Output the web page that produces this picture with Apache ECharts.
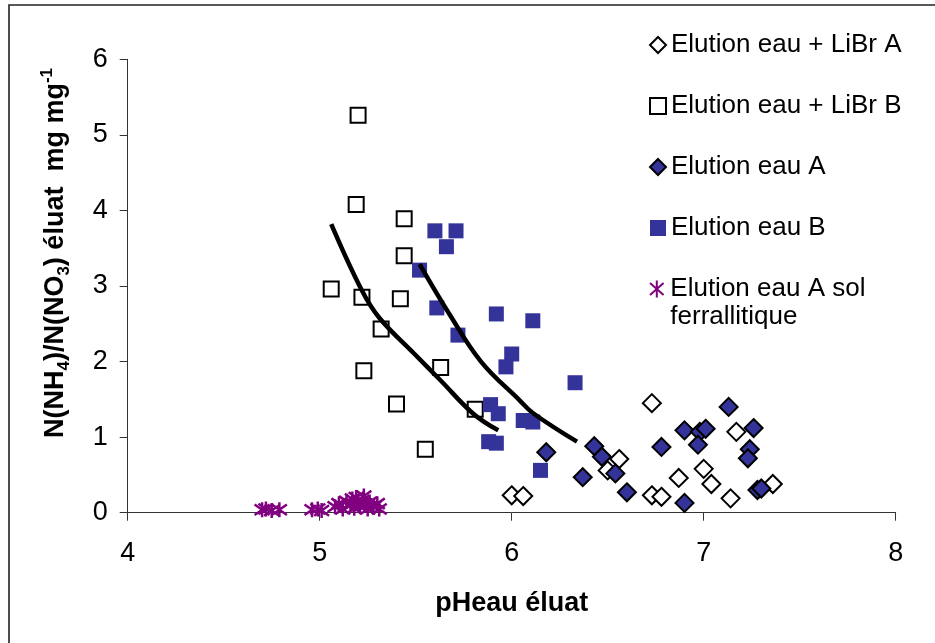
<!DOCTYPE html>
<html>
<head>
<meta charset="utf-8">
<script src="https://cdn.jsdelivr.net/npm/echarts@6/dist/echarts.min.js"></script>
<style>
  html, body { margin: 0; padding: 0; background: #fff; }
  #chart { width: 935px; height: 643px; }
</style>
</head>
<body>
<div id="chart"></div>
<script>
// pH of eluate vs N(NH4)/N(NO3) ratio, per elution method
const seriesNames = [
  'Elution eau + LiBr A',
  'Elution eau + LiBr B',
  'Elution eau A',
  'Elution eau B',
  'Elution eau A sol ferrallitique'
];

const libraA = [
  [6.73, 1.45], [6.56, 0.71], [6.50, 0.56], [6.00, 0.23], [6.06, 0.22],
  [6.73, 0.23], [6.78, 0.21], [6.87, 0.46], [7.00, 0.58], [7.04, 0.38],
  [7.17, 1.07], [7.14, 0.19], [7.36, 0.38]
];

const libraB = [
  [5.20, 5.26], [5.19, 4.08], [5.44, 3.89], [5.06, 2.96], [5.22, 2.85],
  [5.44, 3.40], [5.42, 2.83], [5.32, 2.43], [5.23, 1.88], [5.63, 1.92],
  [5.40, 1.44], [5.81, 1.37], [5.55, 0.84]
];

const eauA = [
  [6.18, 0.80], [6.43, 0.88], [6.47, 0.74], [6.54, 0.52], [6.37, 0.47],
  [6.60, 0.27], [6.78, 0.87], [6.90, 1.09], [6.98, 1.07], [7.01, 1.11],
  [6.97, 0.90], [7.13, 1.40], [7.26, 1.12], [7.24, 0.84], [7.23, 0.72],
  [7.28, 0.30], [7.30, 0.32], [6.90, 0.13]
];

const eauB = [
  [5.60, 3.73], [5.71, 3.73], [5.66, 3.52], [5.52, 3.21], [5.61, 2.71],
  [5.72, 2.35], [5.92, 2.63], [6.11, 2.54], [6.00, 2.10], [5.97, 1.93],
  [6.33, 1.72], [5.89, 1.43], [5.93, 1.31], [6.06, 1.22], [6.11, 1.20],
  [5.92, 0.92], [5.88, 0.94], [6.15, 0.56]
];

const solFerral = [
  [4.70, 0.04], [4.72, 0.05], [4.75, 0.03], [4.79, 0.04], [4.96, 0.04],
  [4.99, 0.05], [5.01, 0.03], [5.08, 0.08], [5.10, 0.12], [5.12, 0.05],
  [5.14, 0.15], [5.16, 0.10], [5.17, 0.18], [5.18, 0.06], [5.19, 0.20],
  [5.20, 0.12], [5.21, 0.08], [5.22, 0.16], [5.23, 0.22], [5.24, 0.10],
  [5.25, 0.05], [5.26, 0.14], [5.28, 0.08], [5.30, 0.12], [5.31, 0.05]
];

// trend curves drawn through the LiBr B and eau B clouds
const trendLibrB = [
  [5.06, 3.82], [5.22, 2.94], [5.31, 2.58], [5.49, 2.11],
  [5.63, 1.75], [5.80, 1.31], [5.93, 1.09]
];
const trendEauB = [
  [5.52, 3.29], [5.68, 2.61], [5.84, 2.00], [6.04, 1.49],
  [6.11, 1.32], [6.34, 0.94]
];

const xTicks = [4, 5, 6, 7, 8];
const yTicks = [0, 1, 2, 3, 4, 5, 6];

const FONT = '"Liberation Sans", Arial, sans-serif';
const BLUE = '#333399';
const PURPLE = '#800080';
const STAR = 'path://M10,0L10,20M2,3L18,17M2,17L18,3';

const chart = echarts.init(document.getElementById('chart'), null, { renderer: 'canvas' });

const legendText = { fontFamily: FONT, fontSize: 26, color: '#000', lineHeight: 28 };

chart.setOption({
  animation: false,
  backgroundColor: '#fff',
  grid: { left: 127.7, right: 39.3, top: 59.3, bottom: 130.3, containLabel: false },
  graphic: [{
    type: 'rect',
    silent: true,
    shape: { x: 9, y: 5, width: 940, height: 650 },
    style: { fill: 'none', stroke: '#222', lineWidth: 1.6 }
  }],
  legend: [{
    orient: 'vertical',
    left: 649,
    top: 31,
    padding: 0,
    itemGap: 33,
    itemWidth: 16,
    itemHeight: 16,
    selectedMode: false,
    textStyle: legendText,
    data: seriesNames.slice(0, 4)
  }, {
    // blank first line keeps the symbol level with "Elution eau A sol"
    orient: 'vertical',
    left: 649,
    top: 247,
    padding: 0,
    itemWidth: 17,
    itemHeight: 17,
    selectedMode: false,
    formatter: () => ' \nElution eau A sol\nferrallitique',
    textStyle: legendText,
    data: [seriesNames[4]]
  }],
  xAxis: {
    type: 'value',
    min: xTicks[0],
    max: xTicks[xTicks.length - 1],
    interval: 1,
    name: 'pHeau éluat',
    nameLocation: 'middle',
    nameGap: 77,
    nameTextStyle: { fontFamily: FONT, fontSize: 27, fontWeight: 'bold', color: '#000' },
    axisLine: { lineStyle: { color: '#333', width: 1 } },
    axisTick: { show: true, inside: false, length: 8, lineStyle: { color: '#333' } },
    axisLabel: { margin: 27, fontFamily: FONT, fontSize: 27, color: '#000' },
    splitLine: { show: false }
  },
  yAxis: {
    type: 'value',
    min: yTicks[0],
    max: yTicks[yTicks.length - 1],
    interval: 1,
    name: '{m|N(NH}{s|4}{m|)/N(NO}{s|3}{m|) éluat  mg mg}{p|-1}',
    nameLocation: 'middle',
    nameGap: 55,
    nameTextStyle: {
      fontFamily: FONT, fontSize: 27, fontWeight: 'bold', color: '#000',
      padding: [0, 0, 0, 66],
      rich: {
        m: { fontFamily: FONT, fontSize: 27, fontWeight: 'bold', color: '#000', lineHeight: 34 },
        s: { fontFamily: FONT, fontSize: 17, fontWeight: 'bold', color: '#000', lineHeight: 17, verticalAlign: 'bottom' },
        p: { fontFamily: FONT, fontSize: 17, fontWeight: 'bold', color: '#000', lineHeight: 17, verticalAlign: 'top' }
      }
    },
    axisLine: { show: true, lineStyle: { color: '#333', width: 1 } },
    axisTick: { show: true, inside: false, length: 8, lineStyle: { color: '#333' } },
    axisLabel: { margin: 20, fontFamily: FONT, fontSize: 27, color: '#000' },
    splitLine: { show: false }
  },
  series: [
    {
      name: seriesNames[0], type: 'scatter', data: libraA,
      symbol: 'diamond', symbolSize: 18,
      itemStyle: { color: '#fff', borderColor: '#000', borderWidth: 2, opacity: 1 }, z: 3
    },
    {
      name: seriesNames[1], type: 'scatter', data: libraB,
      symbol: 'rect', symbolSize: 15,
      itemStyle: { color: '#fff', borderColor: '#000', borderWidth: 2, opacity: 1 }, z: 3
    },
    {
      name: seriesNames[2], type: 'scatter', data: eauA,
      symbol: 'diamond', symbolSize: 18,
      itemStyle: { color: BLUE, borderColor: '#000', borderWidth: 2, opacity: 1 }, z: 4
    },
    {
      name: seriesNames[3], type: 'scatter', data: eauB,
      symbol: 'rect', symbolSize: 15,
      itemStyle: { color: BLUE, borderWidth: 0, opacity: 1 }, z: 4
    },
    {
      name: seriesNames[4], type: 'scatter', data: solFerral,
      symbol: STAR, symbolSize: 15,
      itemStyle: { color: 'rgba(0,0,0,0)', borderColor: PURPLE, borderWidth: 2.5, opacity: 1 }, z: 4
    },
    {
      name: 'trendLibrB', type: 'line', data: trendLibrB, smooth: 0.4,
      showSymbol: false, symbol: 'none', silent: true,
      lineStyle: { color: '#000', width: 4.5 }, z: 6
    },
    {
      name: 'trendEauB', type: 'line', data: trendEauB, smooth: 0.4,
      showSymbol: false, symbol: 'none', silent: true,
      lineStyle: { color: '#000', width: 4.5 }, z: 6
    }
  ]
});
</script>
</body>
</html>
